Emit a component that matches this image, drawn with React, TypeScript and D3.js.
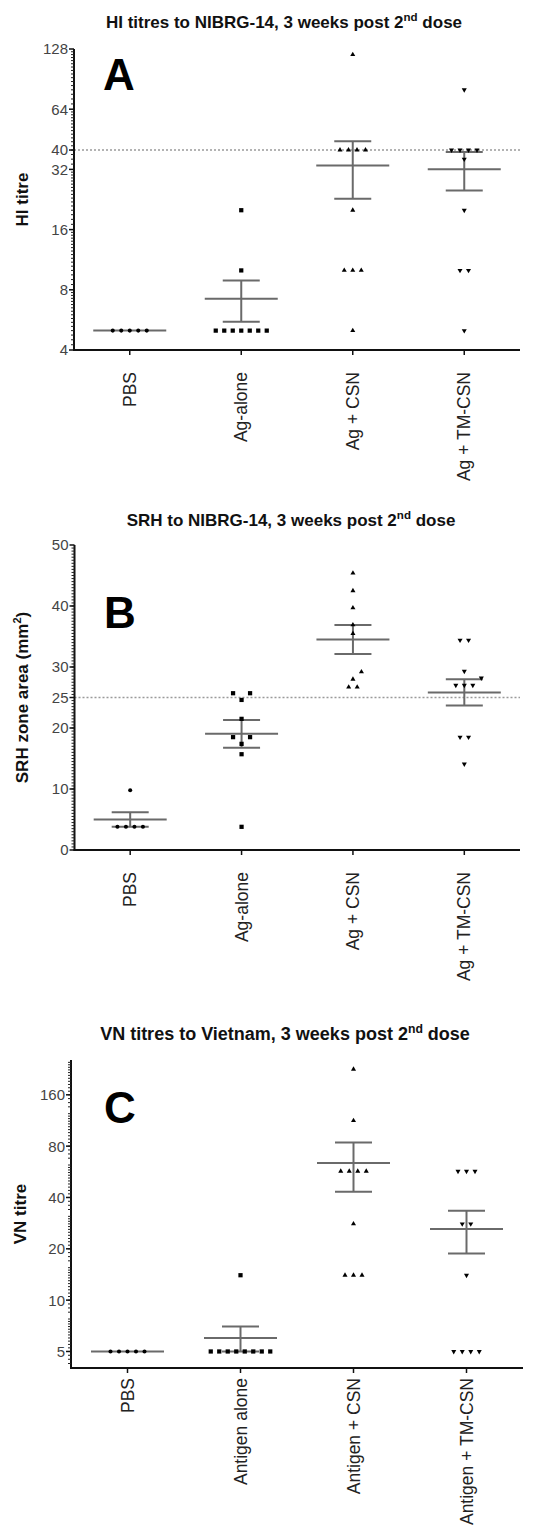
import React from 'react';
import * as d3 from 'd3';

const W = 535;
const H = 1535;
const FONT = "'Liberation Sans', Arial, Helvetica, sans-serif";

// ---------- data ----------
const categoriesAB = ['PBS', 'Ag-alone', 'Ag + CSN', 'Ag + TM-CSN'];
const categoriesC = ['PBS', 'Antigen alone', 'Antigen + CSN', 'Antigen + TM-CSN'];

// Panel A: HI titres
const hiPBS = [5, 5, 5, 5, 5];
const hiAgAlone = [20, 10, 5, 5, 5, 5, 5, 5, 5];
const hiCSN = [120, 40, 40, 40, 40, 20, 10, 10, 10, 5];
const hiTMCSN = [80, 40, 40, 40, 40, 36, 20, 10, 10, 5];
const hiTicks = [4, 8, 16, 32, 40, 64, 128];
const hiThreshold = 40;

// Panel B: SRH zone area
const srhPBS = [9.8, 3.8, 3.8, 3.8, 3.8];
const srhAgAlone = [25.7, 25.7, 24.6, 21.5, 18.5, 18.5, 17.4, 15.7, 3.8];
const srhCSN = [45.4, 42.5, 39.7, 36.9, 35.5, 29.2, 28, 26.7, 26.7];
const srhTMCSN = [34.4, 34.4, 29.3, 28.2, 27, 27, 27, 18.5, 18.5, 14.1];
const srhTicks = [0, 10, 20, 25, 30, 40, 50];
const srhThreshold = 25;

// Panel C: VN titres
const vnPBS = [5, 5, 5, 5, 5];
const vnAgAlone = [14, 5, 5, 5, 5, 5, 5, 5, 5];
const vnCSN = [226, 113, 57, 57, 57, 57, 28, 14, 14, 14];
const vnTMCSN = [57, 57, 57, 28, 28, 14, 5, 5, 5, 5];
const vnTicks = [5, 10, 20, 40, 80, 160];

// ---------- helpers ----------
type Scale = (v: number) => number;

function log2Minor(lo: number, hi: number): number[] {
  const out: number[] = [];
  for (let b = lo; b < hi; b *= 2) {
    for (let j = 1; j < 16; j++) out.push(b * (1 + j / 16));
  }
  return out;
}

function swarm(values: number[], y: Scale, d: number, v: number) {
  const placed: { off: number; y: number; value: number }[] = [];
  const uniq = Array.from(new Set(values)).sort((a, b) => a - b);
  const collides = (off: number, yy: number) =>
    placed.some((p) => Math.abs(p.off - off) < d - 0.01 && Math.abs(p.y - yy) < v);
  for (const u of uniq) {
    const k = values.filter((x) => x === u).length;
    const yy = y(u);
    const centered = d3.range(k).map((i) => (i - (k - 1) / 2) * d);
    if (centered.every((o) => !collides(o, yy))) {
      centered.forEach((o) => placed.push({ off: o, y: yy, value: u }));
    } else {
      for (let i = 0; i < k; i++) {
        for (let s = 0; s < 20; s++) {
          const m = Math.ceil(s / 2);
          const o = s === 0 ? 0 : (s % 2 === 1 ? m : -m) * d;
          if (!collides(o, yy)) {
            placed.push({ off: o, y: yy, value: u });
            break;
          }
        }
      }
    }
  }
  return placed;
}

const symbols = [d3.symbolCircle, d3.symbolSquare, d3.symbolTriangle, d3.symbolTriangle];
const symbolSizes = [13, 18, 11, 11];
const symbolRot = [0, 0, 0, 180];

type PanelDef = {
  title: string;
  titleSup: string;
  titleTail: string;
  titleX: number;
  titleY: number;
  titleSize: number;
  letter: string;
  letterX: number;
  letterY: number;
  yLabel: string;
  yLabelSup?: string;
  yLabelTail?: string;
  yLabelX: number;
  x0: number;
  x1: number;
  y: any;
  ticks: number[];
  minor: number[];
  threshold?: number;
  groups: number[][];
  categories: string[];
  labelGap: number;
};

const LINE = '#6a6a6a';

function PanelView({ p }: { p: PanelDef }) {
  const [yBottom, yTop] = p.y.range();
  const x = d3.scalePoint<string>().domain(p.categories).range([p.x0, p.x1]).padding(0.5);
  const yMid = (yBottom + yTop) / 2;
  return (
    <g>
      <text
        x={p.titleX}
        y={p.titleY}
        textAnchor="middle"
        fontFamily={FONT}
        fontWeight="bold"
        fontSize={p.titleSize}
        fill="#111"
      >
        {p.title}
        <tspan fontSize={p.titleSize * 0.68} dy={-p.titleSize * 0.4}>
          {p.titleSup}
        </tspan>
        <tspan dy={p.titleSize * 0.4}>{p.titleTail}</tspan>
      </text>
      <text x={p.letterX} y={p.letterY} fontFamily={FONT} fontWeight="bold" fontSize={44} fill="#000">
        {p.letter}
      </text>
      <text
        transform={`translate(${p.yLabelX},${yMid}) rotate(-90)`}
        textAnchor="middle"
        fontFamily={FONT}
        fontWeight="bold"
        fontSize={17}
        fill="#111"
      >
        {p.yLabel}
        {p.yLabelSup ? (
          <tspan fontSize={11} dy={-7}>
            {p.yLabelSup}
          </tspan>
        ) : null}
        {p.yLabelTail ? <tspan dy={p.yLabelSup ? 7 : 0}>{p.yLabelTail}</tspan> : null}
      </text>

      {p.threshold !== undefined ? (
        <line
          x1={p.x0}
          x2={p.x1}
          y1={p.y(p.threshold)}
          y2={p.y(p.threshold)}
          stroke="#9a9a9a"
          strokeWidth={1.4}
          strokeDasharray="2 2"
        />
      ) : null}

      {p.groups.map((vals, gi) => {
        const cx = x(p.categories[gi]) as number;
        const mean = d3.mean(vals) as number;
        const sd = d3.deviation(vals) || 0;
        const sem = sd / Math.sqrt(vals.length);
        const ym = p.y(mean);
        const pts = swarm(vals, p.y, 8.5, 7.5);
        const sym = d3.symbol().type(symbols[gi]).size(symbolSizes[gi]);
        const path = sym() as string;
        return (
          <g key={gi}>
            {sem > 0 ? (
              <g stroke={LINE} strokeWidth={2}>
                <line x1={cx} x2={cx} y1={p.y(mean - sem)} y2={p.y(mean + sem)} />
                <line x1={cx - 18.5} x2={cx + 18.5} y1={p.y(mean + sem)} y2={p.y(mean + sem)} />
                <line x1={cx - 18.5} x2={cx + 18.5} y1={p.y(mean - sem)} y2={p.y(mean - sem)} />
              </g>
            ) : null}
            <line x1={cx - 36.5} x2={cx + 36.5} y1={ym} y2={ym} stroke={LINE} strokeWidth={2} />
            {pts.map((pt, i) => (
              <path
                key={i}
                d={path}
                transform={`translate(${cx + pt.off},${pt.y}) rotate(${symbolRot[gi]})`}
                fill="#000"
              />
            ))}
          </g>
        );
      })}

      {/* y axis */}
      <line x1={p.x0} x2={p.x0} y1={yTop} y2={yBottom + 1} stroke="#111" strokeWidth={2} />
      {p.minor.map((t, i) => (
        <line key={'m' + i} x1={p.x0 - 3} x2={p.x0} y1={p.y(t)} y2={p.y(t)} stroke="#222" strokeWidth={1} />
      ))}
      {p.ticks.map((t) => (
        <g key={'t' + t}>
          <line x1={p.x0 - 5} x2={p.x0} y1={p.y(t)} y2={p.y(t)} stroke="#111" strokeWidth={1.5} />
          <text
            x={p.x0 - 6}
            y={p.y(t)}
            dy="0.36em"
            textAnchor="end"
            fontFamily={FONT}
            fontSize={15}
            fill="#444"
          >
            {t}
          </text>
        </g>
      ))}
      {/* x axis */}
      <line x1={p.x0 - 1} x2={p.x1} y1={yBottom} y2={yBottom} stroke="#111" strokeWidth={2} />
      {p.categories.map((c) => {
        const cx = x(c) as number;
        return (
          <g key={c}>
            <line x1={cx} x2={cx} y1={yBottom} y2={yBottom + 5} stroke="#111" strokeWidth={1.5} />
            <text
              transform={`translate(${cx + 6},${yBottom + p.labelGap}) rotate(-90)`}
              textAnchor="end"
              fontFamily={FONT}
              fontSize={17.5}
              fill="#222"
            >
              {c}
            </text>
          </g>
        );
      })}
    </g>
  );
}

export default function App() {
  const panels: PanelDef[] = [
    {
      title: 'HI titres to NIBRG-14, 3 weeks post 2',
      titleSup: 'nd',
      titleTail: ' dose',
      titleX: 284,
      titleY: 28,
      titleSize: 17,
      letter: 'A',
      letterX: 103,
      letterY: 90,
      yLabel: 'HI titre',
      yLabelX: 28,
      x0: 74,
      x1: 520,
      y: d3.scaleLog().base(2).domain([4, 128]).range([350, 49]),
      ticks: hiTicks,
      minor: log2Minor(4, 128),
      threshold: hiThreshold,
      groups: [hiPBS, hiAgAlone, hiCSN, hiTMCSN],
      categories: categoriesAB,
      labelGap: 22,
    },
    {
      title: 'SRH to NIBRG-14, 3 weeks post 2',
      titleSup: 'nd',
      titleTail: ' dose',
      titleX: 291,
      titleY: 526,
      titleSize: 17,
      letter: 'B',
      letterX: 104,
      letterY: 628,
      yLabel: 'SRH zone area (mm',
      yLabelSup: '2',
      yLabelTail: ')',
      yLabelX: 28,
      x0: 74.5,
      x1: 520,
      y: d3.scaleLinear().domain([0, 50]).range([850, 545]),
      ticks: srhTicks,
      minor: d3.range(0.5, 50, 0.5),
      threshold: srhThreshold,
      groups: [srhPBS, srhAgAlone, srhCSN, srhTMCSN],
      categories: categoriesAB,
      labelGap: 22,
    },
    {
      title: 'VN titres to Vietnam, 3 weeks post 2',
      titleSup: 'nd',
      titleTail: ' dose',
      titleX: 285,
      titleY: 1040,
      titleSize: 18,
      letter: 'C',
      letterX: 104,
      letterY: 1123,
      yLabel: 'VN titre',
      yLabelX: 26,
      x0: 71,
      x1: 523,
      y: d3.scaleLog().base(2).domain([4, 256]).range([1368, 1060]),
      ticks: vnTicks,
      minor: log2Minor(4, 256),
      groups: [vnPBS, vnAgAlone, vnCSN, vnTMCSN],
      categories: categoriesC,
      labelGap: 10,
    },
  ];
  return (
    <svg
      width={W}
      height={H}
      viewBox={`0 0 ${W} ${H}`}
      style={{ position: 'absolute', left: 0, top: 0, background: '#fff' }}
    >
      <rect x={0} y={0} width={W} height={H} fill="#fff" />
      {panels.map((p, i) => (
        <PanelView key={i} p={p} />
      ))}
    </svg>
  );
}
